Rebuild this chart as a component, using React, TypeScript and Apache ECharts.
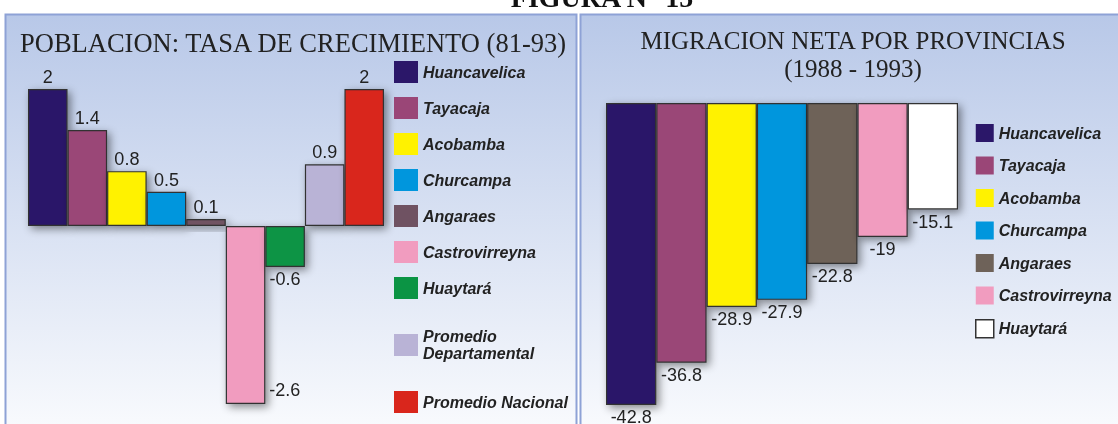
import React, { useEffect, useRef } from "react";
import * as echarts from "echarts";

const growthCategories = [
  "Huancavelica",
  "Tayacaja",
  "Acobamba",
  "Churcampa",
  "Angaraes",
  "Castrovirreyna",
  "Huaytará",
  "Promedio Departamental",
  "Promedio Nacional",
];
const growthValues = [2, 1.4, 0.8, 0.5, 0.1, -2.6, -0.6, 0.9, 2];
const growthColors = [
  "#2b1769",
  "#9a4677",
  "#fff200",
  "#0096dd",
  "#6f5262",
  "#f19cbf",
  "#0b9444",
  "#b9b3d6",
  "#d9261c",
];

const migrationCategories = [
  "Huancavelica",
  "Tayacaja",
  "Acobamba",
  "Churcampa",
  "Angaraes",
  "Castrovirreyna",
  "Huaytará",
];
const migrationValues = [-42.8, -36.8, -28.9, -27.9, -22.8, -19, -15.1];
const migrationColors = [
  "#2b1769",
  "#9a4677",
  "#fff200",
  "#0096dd",
  "#6e6259",
  "#f19cbf",
  "#ffffff",
];

const titleLeft = "POBLACION: TASA DE CRECIMIENTO (81-93)";
const titleRight = "MIGRACION NETA POR PROVINCIAS\n(1988 - 1993)";
const figureTitle = "FIGURA N° 15";

const legendFont = {
  fontFamily: "'Liberation Sans', Arial, sans-serif",
  fontStyle: "italic" as const,
  fontWeight: "bold" as const,
  fontSize: 16,
  color: "#222",
};

const valueFont = {
  fontFamily: "'Liberation Sans', Arial, sans-serif",
  fontSize: 18,
  color: "#222",
};

const barShadow = {
  shadowBlur: 8,
  shadowColor: "rgba(0,0,0,0.45)",
  shadowOffsetX: 3,
  shadowOffsetY: 3,
};

export default function App() {
  const ref = useRef<HTMLDivElement>(null);

  useEffect(() => {
    if (!ref.current) return;
    const chart = echarts.init(ref.current, undefined, { renderer: "svg" });

    const panelFill = () =>
      new echarts.graphic.LinearGradient(0, 0, 0, 1, [
        { offset: 0, color: "#b8c8e8" },
        { offset: 1, color: "#fbfcfe" },
      ]);

    const leftSeries = growthCategories.map((name, i) => {
      const v = growthValues[i];
      let label: any = {
        show: true,
        position: v >= 0 ? "top" : "bottom",
        distance: 3,
        ...valueFont,
      };
      if (name === "Castrovirreyna") {
        label = {
          show: true,
          position: ["100%", "100%"],
          align: "left",
          verticalAlign: "bottom",
          offset: [4, -5],
          ...valueFont,
        };
      }
      return {
        type: "bar",
        name,
        xAxisIndex: 0,
        yAxisIndex: 0,
        stack: "growth",
        barWidth: "100%",
        barCategoryGap: "0%",
        data: growthCategories.map((_, j) => (j === i ? v : null)),
        itemStyle: {
          color: growthColors[i],
          borderColor: "#333",
          borderWidth: 1.2,
          ...barShadow,
        },
        label,
        z: 3,
      };
    });

    const rightSeries = migrationCategories.map((name, i) => ({
      type: "bar",
      name,
      xAxisIndex: 1,
      yAxisIndex: 1,
      stack: "migration",
      barWidth: "100%",
      barCategoryGap: "0%",
      data: migrationCategories.map((_, j) => (j === i ? migrationValues[i] : null)),
      itemStyle: {
        color: migrationColors[i],
        borderColor: "#333",
        borderWidth: 1.2,
        ...barShadow,
      },
      label: {
        show: true,
        position: "bottom",
        distance: 3,
        ...valueFont,
      },
      z: 3,
    }));

    chart.setOption({
      animation: false,
      title: [
        {
          text: titleLeft,
          left: 15,
          top: 24,
          textStyle: {
            fontFamily: "'Liberation Serif', 'Times New Roman', serif",
            fontWeight: "normal",
            fontSize: 26.5,
            color: "#222",
          },
        },
        {
          text: titleRight,
          left: 848,
          top: 21,
          textAlign: "center",
          textStyle: {
            fontFamily: "'Liberation Serif', 'Times New Roman', serif",
            fontWeight: "normal",
            fontSize: 25,
            lineHeight: 28,
            color: "#222",
          },
        },
      ],
      graphic: [
        {
          type: "rect",
          z: -10,
          silent: true,
          shape: { x: 5.5, y: 14.5, width: 571, height: 430 },
          style: { fill: panelFill(), stroke: "#8ea2d6", lineWidth: 2 },
        },
        {
          type: "rect",
          z: -10,
          silent: true,
          shape: { x: 580.5, y: 14.5, width: 560, height: 430 },
          style: { fill: panelFill(), stroke: "#8ea2d6", lineWidth: 2 },
        },
        {
          type: "text",
          z: 10,
          x: 602,
          y: 11,
          silent: true,
          style: {
            text: figureTitle,
            fill: "#111",
            font: "bold 28px 'Liberation Serif', 'Times New Roman', serif",
            textAlign: "center",
            textVerticalAlign: "bottom",
          },
        },
      ],
      legend: [
        {
          orient: "vertical",
          left: 389,
          top: 56,
          itemWidth: 24,
          itemHeight: 22,
          itemGap: 14,
          icon: "rect",
          selectedMode: false,
          textStyle: legendFont,
          data: growthCategories.slice(0, 7).map((name, i) => ({
            name,
            itemStyle: { color: growthColors[i], borderWidth: 0, shadowBlur: 0 },
          })),
        },
        {
          orient: "vertical",
          left: 389,
          top: 323,
          itemWidth: 24,
          itemHeight: 22,
          icon: "rect",
          selectedMode: false,
          textStyle: { ...legendFont, lineHeight: 17 },
          formatter: (n: string) => n.replace(" ", "\n"),
          data: [
            {
              name: growthCategories[7],
              itemStyle: { color: growthColors[7], borderWidth: 0, shadowBlur: 0 },
            },
          ],
        },
        {
          orient: "vertical",
          left: 389,
          top: 386,
          itemWidth: 24,
          itemHeight: 22,
          icon: "rect",
          selectedMode: false,
          textStyle: legendFont,
          data: [
            {
              name: growthCategories[8],
              itemStyle: { color: growthColors[8], borderWidth: 0, shadowBlur: 0 },
            },
          ],
        },
        {
          orient: "vertical",
          left: 970,
          top: 119,
          itemWidth: 18,
          itemHeight: 18,
          itemGap: 14.5,
          icon: "rect",
          selectedMode: false,
          textStyle: legendFont,
          data: migrationCategories.map((name, i) => ({
            name,
            itemStyle: {
              color: migrationColors[i],
              borderColor: "#333",
              borderWidth: i === 6 ? 1.5 : 0,
              shadowBlur: 0,
            },
          })),
        },
      ],
      grid: [
        { left: 28, top: 89, width: 356, height: 315 },
        { left: 606, top: 103, width: 352, height: 302 },
      ],
      xAxis: [
        { type: "category", gridIndex: 0, data: growthCategories, show: false },
        { type: "category", gridIndex: 1, data: migrationCategories, show: false },
      ],
      yAxis: [
        { type: "value", gridIndex: 0, min: -2.6, max: 2, show: false },
        { type: "value", gridIndex: 1, min: -42.8, max: 0, show: false },
      ],
      series: [...leftSeries, ...rightSeries],
    });

    return () => chart.dispose();
  }, []);

  return (
    <div
      ref={ref}
      style={{ position: "fixed", left: 0, top: 0, width: 1118, height: 424 }}
    />
  );
}
